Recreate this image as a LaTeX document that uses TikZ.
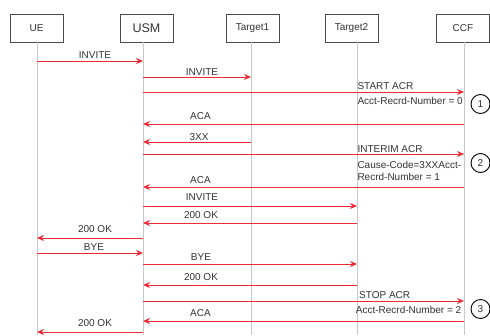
\documentclass[tikz,border=0pt]{standalone}
\usepackage{fontspec}
\setmainfont{Liberation Sans}
\usetikzlibrary{arrows.meta}
\definecolor{msgred}{HTML}{EE2A34}
\definecolor{lifegray}{HTML}{C8C8C8}
\definecolor{boxgray}{HTML}{4A4A4A}
\definecolor{txtgray}{HTML}{333333}
\tikzset{
  actor/.style={draw=boxgray, line width=0.8pt, fill=white, minimum width=53pt,
    minimum height=28pt, inner sep=0pt, text=txtgray, font=\fontsize{10}{12}\selectfont},
  lifeline/.style={draw=lifegray, line width=1pt},
  msg/.style={draw=msgred, line width=0.8pt, -{Stealth[length=7pt,width=6pt]}},
  lbl/.style={text=txtgray, font=\fontsize{10}{12.5}\selectfont, inner sep=0pt, anchor=base},
  acrlbl/.style={lbl, anchor=base west, align=left},
  stepnum/.style={circle, draw=black, line width=0.9pt, minimum size=19pt, inner sep=0pt,
    text=txtgray, font=\fontsize{10}{12}\selectfont}
}
\begin{document}
\begin{tikzpicture}[x=1pt,y=-1pt]
\useasboundingbox[fill=white] (0,0) rectangle (490,335);
% actors
\node[actor] (UE) at (36.5,28) {UE};
\node[actor, font=\fontsize{12.5}{14}\selectfont] (USM) at (146.5,28) {USM};
\node[actor] (T1) at (252.5,28) {Target1};
\node[actor] (T2) at (351.5,28) {Target2};
\node[actor] (CCF) at (463,28) {CCF};
% lifelines
\coordinate (lUE) at (37,42);   \coordinate (eUE) at (37,335);
\coordinate (lUSM) at (143,42); \coordinate (eUSM) at (143,335);
\coordinate (lT1) at (251,42);  \coordinate (eT1) at (251,335);
\coordinate (lT2) at (357,42);  \coordinate (eT2) at (357,335);
\coordinate (lCCF) at (464,42); \coordinate (eCCF) at (464,335);
\foreach \a in {UE,USM,T1,T2,CCF} \draw[lifeline] (l\a) -- (e\a);
% messages
\draw[msg] (lUE |- 0,61) -- (lUSM |- 0,61);
\node[lbl] (l1) at (95,58.3) {INVITE};
\draw[msg] (lUSM |- 0,77) -- (lT1 |- 0,77);
\node[lbl] (l2) at (202,75) {INVITE};
\draw[msg] (lUSM |- 0,92) -- (lCCF |- 0,92);
\node[acrlbl] (l3) at (357.3,89) {START ACR};
\node[acrlbl] (l3b) at (357.3,104) {Acct-Recrd-Number = 0};
\node[stepnum] (c1) at (480.5,104) {1};
\draw[msg] (lCCF |- 0,124) -- (lUSM |- 0,124);
\node[lbl] (l4) at (200.5,119) {ACA};
\draw[msg] (lT1 |- 0,142) -- (lUSM |- 0,142);
\node[lbl] (l5) at (199,140) {3XX};
\draw[msg] (lUSM |- 0,154) -- (lCCF |- 0,154);
\node[acrlbl] (l6) at (357.3,152) {INTERIM ACR};
\node[acrlbl] (l6b) at (357.3,180.5) {Cause-Code=3XXAcct-\\Recrd-Number = 1};
\node[stepnum] (c2) at (480.5,163) {2};
\draw[msg] (lCCF |- 0,187) -- (lUSM |- 0,187);
\node[lbl] (l7) at (200.5,183) {ACA};
\draw[msg] (lUSM |- 0,206) -- (lT2 |- 0,206);
\node[lbl] (l8) at (202,200.7) {INVITE};
\draw[msg] (lT2 |- 0,223) -- (lUSM |- 0,223);
\node[lbl] (l9) at (201,218.3) {200 OK};
\draw[msg] (lUSM |- 0,238) -- (lUE |- 0,238);
\node[lbl] (l10) at (95,232.7) {200 OK};
\draw[msg] (lUE |- 0,253) -- (lUSM |- 0,253);
\node[lbl] (l11) at (94,250.7) {BYE};
\draw[msg] (lUSM |- 0,264) -- (lT2 |- 0,264);
\node[lbl] (l12) at (201,260.7) {BYE};
\draw[msg] (lT2 |- 0,285) -- (lUSM |- 0,285);
\node[lbl] (l13) at (201,280) {200 OK};
\draw[msg] (lUSM |- 0,301) -- (lCCF |- 0,301);
\node[acrlbl] (l14) at (359,298) {STOP ACR};
\node[acrlbl] (l14b) at (355.7,313) {Acct-Recrd-Number = 2};
\node[stepnum] (c3) at (480.5,309) {3};
\draw[msg] (lCCF |- 0,321) -- (lUSM |- 0,321);
\node[lbl] (l15) at (200.5,316.7) {ACA};
\draw[msg] (lUSM |- 0,332) -- (lUE |- 0,332);
\node[lbl] (l16) at (95,326.7) {200 OK};
\end{tikzpicture}
\end{document}
